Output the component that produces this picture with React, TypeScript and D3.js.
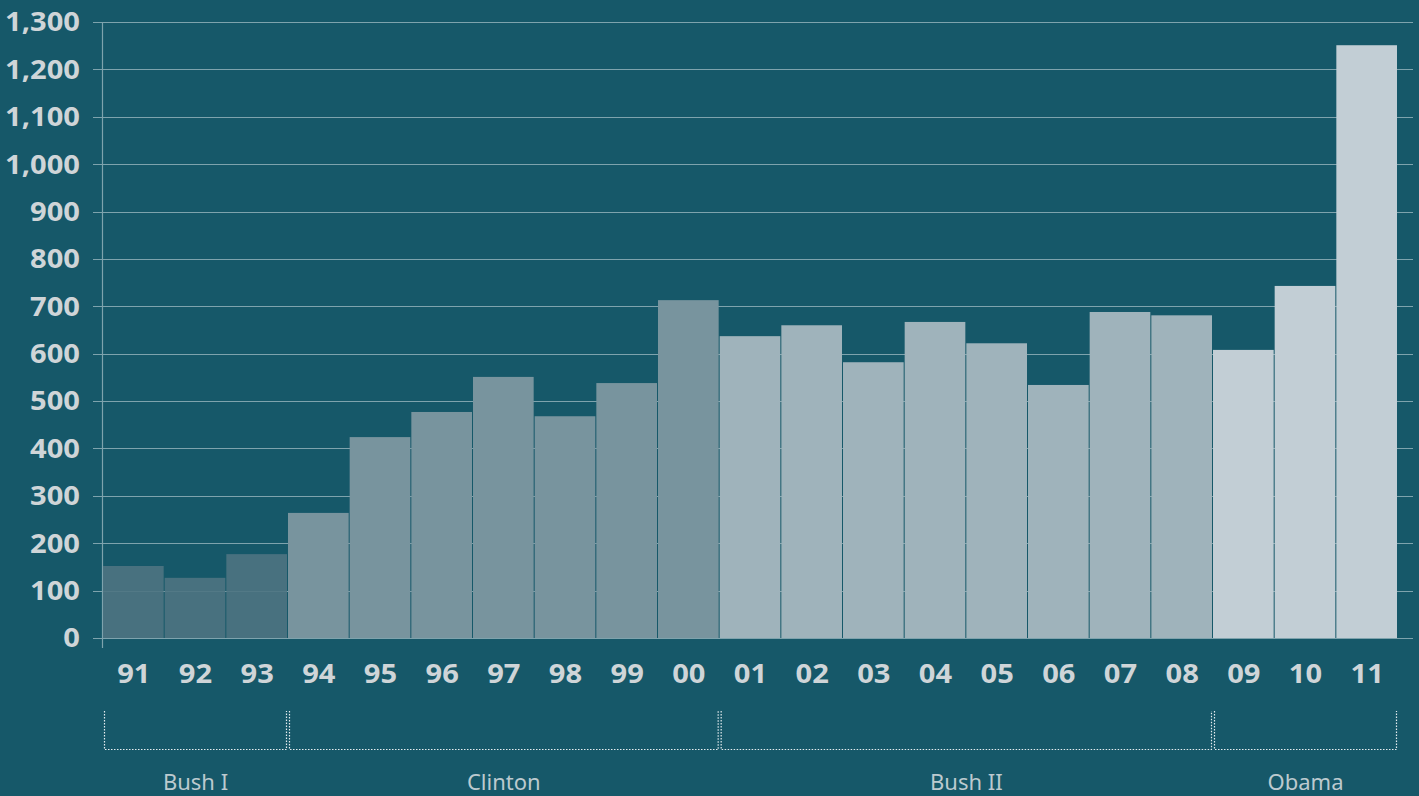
import React from "react";
import * as d3 from "d3";

const years = ["91","92","93","94","95","96","97","98","99","00","01","02","03","04","05","06","07","08","09","10","11"];
const values = [152,127,177,264,424,477,551,468,538,713,637,660,582,667,622,534,688,681,608,743,1251];
const presidents = ["Bush I","Bush I","Bush I","Clinton","Clinton","Clinton","Clinton","Clinton","Clinton","Clinton","Bush II","Bush II","Bush II","Bush II","Bush II","Bush II","Bush II","Bush II","Obama","Obama","Obama"];
const groups = ["Bush I","Clinton","Bush II","Obama"];
const groupColors = ["#4e7482","#78949e","#9fb3bb","#c2ced5"];
const yTicks = [0,100,200,300,400,500,600,700,800,900,1000,1100,1200,1300];

const W = 1419, H = 796;
const BG = "#165869";
const TEXT = "#cfd5d8";
const SX = 1.12;

export default function App() {
  const x = d3.scaleBand<string>().domain(years).range([103, 1398]).padding(0);
  const y = d3.scaleLinear().domain([0, 1300]).range([638, 22]);
  const color = d3.scaleOrdinal<string, string>().domain(groups).range(groupColors);
  const fmt = d3.format(",");
  const axisLeft = 102;
  const axisRight = 1413;

  const spans = groups.map((g) => {
    const idx = presidents.map((p, i) => (p === g ? i : -1)).filter((i) => i >= 0);
    const x0 = x(years[idx[0]])!;
    const x1 = x(years[idx[idx.length - 1]])! + x.bandwidth();
    return { g, x0, x1 };
  });

  return (
    <svg width={W} height={H} style={{ position: "absolute", left: 0, top: 0, background: BG }}
      fontFamily="'Noto Sans', 'Open Sans', sans-serif">
      <rect x={0} y={0} width={W} height={H} fill={BG} />
      {yTicks.map((t) => (
        <g key={t}>
          <line x1={93} x2={axisRight} y1={Math.round(y(t)) + 0.5} y2={Math.round(y(t)) + 0.5}
            stroke="#7ea3ad" strokeWidth={1.2} />
          <g transform={`translate(80,${y(t)}) scale(${SX},1)`}>
            <text x={0} y={0} dy="0.36em" textAnchor="end" fill={TEXT} fontSize={26} fontWeight={700}>
              {fmt(t)}
            </text>
          </g>
        </g>
      ))}
      <line x1={axisLeft + 0.5} x2={axisLeft + 0.5} y1={22} y2={648} stroke="#7ea3ad" strokeWidth={1.2} />
      {years.map((yr, i) => {
        const p = presidents[i];
        return (
          <rect key={yr} x={x(yr)!} y={y(values[i])} width={x.bandwidth() - 1}
            height={y(0) - y(values[i])} fill={color(p)}
            fillOpacity={p === "Bush I" ? 0.9 : 1} />
        );
      })}
      {years.map((yr) => (
        <g key={yr} transform={`translate(${x(yr)! + x.bandwidth() / 2},683) scale(${SX},1)`}>
          <text x={0} y={0} textAnchor="middle" fill={TEXT} fontSize={26} fontWeight={700}>
            {yr}
          </text>
        </g>
      ))}
      {spans.map((s) => (
        <g key={s.g}>
          <path d={`M${s.x0 + 1.5},711 V749.5 H${s.x1 - 1.5} V711`} fill="none" stroke="#e4ecef"
            strokeWidth={1.2} strokeDasharray="1.5,1.5" />
          <text x={(s.x0 + s.x1) / 2} y={790} textAnchor="middle" fill="#bccacf" fontSize={22}>
            {s.g}
          </text>
        </g>
      ))}
    </svg>
  );
}
